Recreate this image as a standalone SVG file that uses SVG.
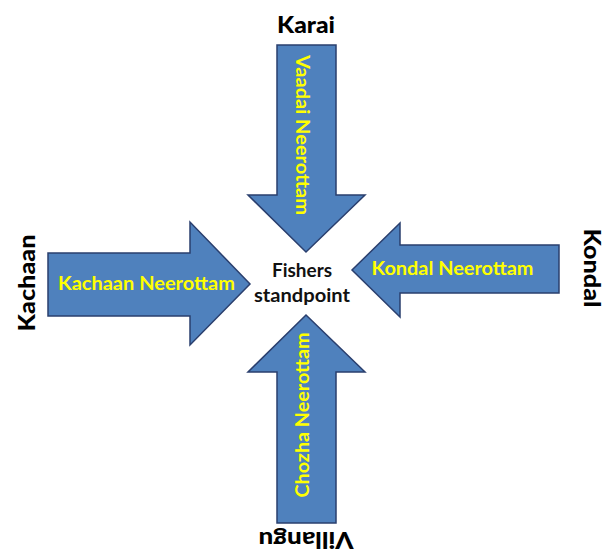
<svg xmlns="http://www.w3.org/2000/svg" width="604" height="552" viewBox="0 0 604 552">
<style>
.arrow{fill:#4F81BD;stroke:#2A3F6E;stroke-width:1.5;stroke-linejoin:miter}
.lbl{font-family:Lato,"Liberation Sans",sans-serif;font-weight:bold;fill:#FFFF00;font-size:18px;text-anchor:middle}
.dir{font-family:Lato,"Liberation Sans",sans-serif;font-weight:900;fill:#000;font-size:22px;text-anchor:middle}
.ctr{font-family:Lato,"Liberation Sans",sans-serif;font-weight:bold;fill:#111;font-size:19px;text-anchor:middle}
</style>
<rect width="604" height="552" fill="#fff"/>
<g id="connectors">
<g id="arrow-vaadai">
<polygon class="arrow" points="277,45 336,45 336,195 365,195 306,252 248,195 277,195"/>
<text class="lbl" transform="translate(302,135) rotate(90)" y="6" textLength="160" lengthAdjust="spacingAndGlyphs">Vaadai Neerottam</text>
</g>
<g id="arrow-kachaan">
<polygon class="arrow" points="48,253 190,253 190,222 250,284 190,345 190,316 48,316"/>
<text class="lbl" x="146.5" y="290" textLength="177" lengthAdjust="spacingAndGlyphs">Kachaan Neerottam</text>
</g>
<g id="arrow-kondal">
<polygon class="arrow" points="559,245 400,245 400,223 352,270 400,317 400,293 559,293"/>
<text class="lbl" x="452.5" y="275" textLength="162" lengthAdjust="spacingAndGlyphs">Kondal Neerottam</text>
</g>
<g id="arrow-chozha">
<polygon class="arrow" points="306,315 365,372 336,372 336,523 277,523 277,372 248,372"/>
<text class="lbl" transform="translate(303,415) rotate(-90)" y="6" textLength="165" lengthAdjust="spacingAndGlyphs">Chozha Neerottam</text>
</g>
</g>
<g id="karai"><text class="dir" x="306" y="33" textLength="58" lengthAdjust="spacingAndGlyphs">Karai</text></g>
<g id="kachaan"><text class="dir" transform="translate(35,283) rotate(-90)" x="0" y="0" textLength="97" lengthAdjust="spacingAndGlyphs">Kachaan</text></g>
<g id="kondal"><text class="dir" transform="translate(584,268) rotate(90)" x="0" y="0" textLength="79" lengthAdjust="spacingAndGlyphs">Kondal</text></g>
<g id="villangu"><text class="dir" transform="translate(306,532) rotate(180)" x="0" y="0" textLength="95" lengthAdjust="spacingAndGlyphs">Villangu</text></g>
<g id="center">
<text class="ctr" x="302" y="277" textLength="60" lengthAdjust="spacingAndGlyphs">Fishers</text>
<text class="ctr" x="302" y="302" textLength="96" lengthAdjust="spacingAndGlyphs">standpoint</text>
</g>
</svg>
